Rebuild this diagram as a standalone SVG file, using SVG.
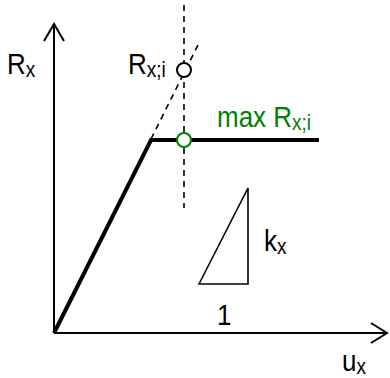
<svg xmlns="http://www.w3.org/2000/svg" width="390" height="378" viewBox="0 0 390 378">
<style>
.t{font-family:"Liberation Sans",Arial,sans-serif;font-size:26px;fill:#000}
.s{font-size:19px}
.g{fill:#008000}
.ax{stroke:#000;stroke-width:2;fill:none}
.dash{stroke:#000;stroke-width:1.6;fill:none;stroke-dasharray:6,5}
</style>
<rect width="390" height="378" fill="#fff"/>
<g id="connectors">
<line class="ax" x1="54" y1="333" x2="54" y2="24"/>
<polyline class="ax" points="44,41 54,24 64,41"/>
<line class="ax" x1="54" y1="333" x2="387" y2="333"/>
<polyline class="ax" points="371,323 387,333 371,343"/>
<line class="dash" x1="184" y1="5" x2="184" y2="208"/>
<line class="dash" x1="151" y1="139" x2="198" y2="45"/>
<polyline points="54,333 151,140 319,140" fill="none" stroke="#000" stroke-width="4" stroke-linejoin="miter"/>
<polygon points="199,284 248,188 248,284" fill="none" stroke="#000" stroke-width="1.6"/>
</g>
<g id="Rxi-point"><circle cx="184" cy="70" r="7" fill="#fff" stroke="#000" stroke-width="2"/></g>
<g id="max-point"><circle cx="184" cy="140" r="7" fill="#fff" stroke="#008000" stroke-width="2"/></g>
<g id="labels">
<text class="t" transform="translate(7,74) scale(1,1.12)">R<tspan class="s" dy="2.5">x</tspan></text>
<text class="t" transform="translate(128,74) scale(1,1.12)">R<tspan class="s" dy="2.5">x;i</tspan></text>
<text class="t g" transform="translate(217,127) scale(1,1.12)">max R<tspan class="s" dy="2.5">x;i</tspan></text>
<text class="t" transform="translate(264,251) scale(1,1.12)">k<tspan class="s" dy="2.5">x</tspan></text>
<text class="t" transform="translate(217,325) scale(1,1.12)">1</text>
<text class="t" transform="translate(342,371) scale(1,1.12)">u<tspan class="s" dy="2.5">x</tspan></text>
</g>
</svg>
